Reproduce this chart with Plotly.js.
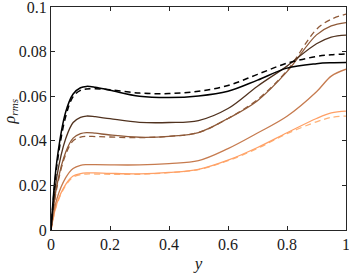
<!DOCTYPE html>
<html><head><meta charset="utf-8">
<script src="https://cdn.plot.ly/plotly-3.0.1.min.js"></script>
<style>body{margin:0;padding:0;background:#fff}#chart{width:349px;height:274px}</style>
</head><body><div id="chart"></div>
<script>
const yPos = [0, 0.02, 0.05, 0.075, 0.1, 0.12, 0.15, 0.2, 0.3, 0.4, 0.5, 0.6, 0.7, 0.8, 0.9, 0.95, 1.0];

const blackSolid  = [0, 0.031, 0.053, 0.061, 0.0638, 0.0644, 0.0640, 0.0627, 0.0600, 0.0594, 0.0601, 0.0622, 0.0672, 0.0726, 0.0746, 0.0750, 0.0751];
const blackDashed = [0, 0.029, 0.051, 0.0598, 0.0626, 0.0632, 0.0633, 0.0629, 0.0614, 0.0612, 0.0622, 0.0648, 0.0698, 0.0748, 0.0778, 0.0786, 0.0790];
const darkSolid   = [0, 0.024, 0.041, 0.0482, 0.0505, 0.0511, 0.0508, 0.0499, 0.0483, 0.0482, 0.0491, 0.0545, 0.0645, 0.0735, 0.0835, 0.0865, 0.0874];
const brownSolid  = [0, 0.020, 0.035, 0.0412, 0.0432, 0.0437, 0.0434, 0.0426, 0.0416, 0.0420, 0.0437, 0.0500, 0.0580, 0.0710, 0.0875, 0.0915, 0.0930];
const brownDashed = [0, 0.019, 0.034, 0.0400, 0.0417, 0.0420, 0.0419, 0.0417, 0.0414, 0.0420, 0.0437, 0.0500, 0.0585, 0.0715, 0.0900, 0.0945, 0.0968];
const midSolid    = [0, 0.014, 0.0235, 0.0276, 0.0290, 0.0293, 0.0293, 0.0292, 0.0292, 0.0298, 0.0311, 0.0365, 0.0435, 0.0510, 0.0620, 0.0690, 0.0721];
const lightSolid  = [0, 0.012, 0.0205, 0.0242, 0.0253, 0.0256, 0.0256, 0.0254, 0.0252, 0.0258, 0.0272, 0.0313, 0.0370, 0.0436, 0.0500, 0.0525, 0.0533];
const lightDashed = [0, 0.0115, 0.0200, 0.0237, 0.0248, 0.0251, 0.0251, 0.0250, 0.0250, 0.0257, 0.0271, 0.0311, 0.0366, 0.0432, 0.0485, 0.0505, 0.0511];

const xTickVals = [0, 0.2, 0.4, 0.6, 0.8, 1];
const xTickText = ['0', '0.2', '0.4', '0.6', '0.8', '1'];
const yTickVals = [0, 0.02, 0.04, 0.06, 0.08, 0.1];
const yTickText = ['0', '0.02', '0.04', '0.06', '0.08', '0.1'];

const seriesList = [
  {v: brownDashed, c: '#8f5a39', d: '6px,4px', w: 1.3},
  {v: lightDashed, c: '#ffb277', d: '6px,4px', w: 1.3},
  {v: lightSolid,  c: '#ffa066', d: 'solid', w: 1.3},
  {v: midSolid,    c: '#c67b4f', d: 'solid', w: 1.3},
  {v: brownSolid,  c: '#8f5a39', d: 'solid', w: 1.3},
  {v: darkSolid,   c: '#50321f', d: 'solid', w: 1.3},
  {v: blackDashed, c: '#000000', d: '6px,4px', w: 1.5},
  {v: blackSolid,  c: '#000000', d: 'solid', w: 1.5}
];

const traces = seriesList.map(s => ({
  x: yPos, y: s.v, type: 'scatter', mode: 'lines',
  line: {color: s.c, dash: s.d, width: s.w, shape: 'spline', smoothing: 1},
  hoverinfo: 'skip', showlegend: false
}));

const font = {family: 'Liberation Serif, Times New Roman, serif', size: 16, color: '#1a1a1a'};
const axisCommon = {
  showgrid: false, zeroline: false, showline: true, linecolor: '#262626', linewidth: 1,
  mirror: 'ticks', ticks: 'inside', ticklen: 4, tickcolor: '#262626', tickfont: font,
  ticklabeloverflow: 'allow', automargin: false
};

const layout = {
  width: 349, height: 274,
  margin: {l: 51, r: 3, t: 7, b: 44},
  paper_bgcolor: '#fff', plot_bgcolor: '#fff',
  font: font,
  xaxis: Object.assign({}, axisCommon, {range: [0, 1], tickvals: xTickVals, ticktext: xTickText,
    title: {text: '<i>y</i>', font: {family: font.family, size: 17, color: font.color}, standoff: 4}}),
  yaxis: Object.assign({}, axisCommon, {range: [0, 0.1], tickvals: yTickVals, ticktext: yTickText}),
  annotations: [{
    text: '<i>ρ</i><sub><i>rms</i></sub>', xref: 'paper', yref: 'paper',
    x: -0.137, y: 0.53, xanchor: 'center', yanchor: 'middle', textangle: -90,
    showarrow: false, borderpad: 0, font: {family: font.family, size: 16, color: font.color}
  }]
};

Plotly.newPlot('chart', traces, layout, {staticPlot: true, displayModeBar: false});
</script></body></html>
